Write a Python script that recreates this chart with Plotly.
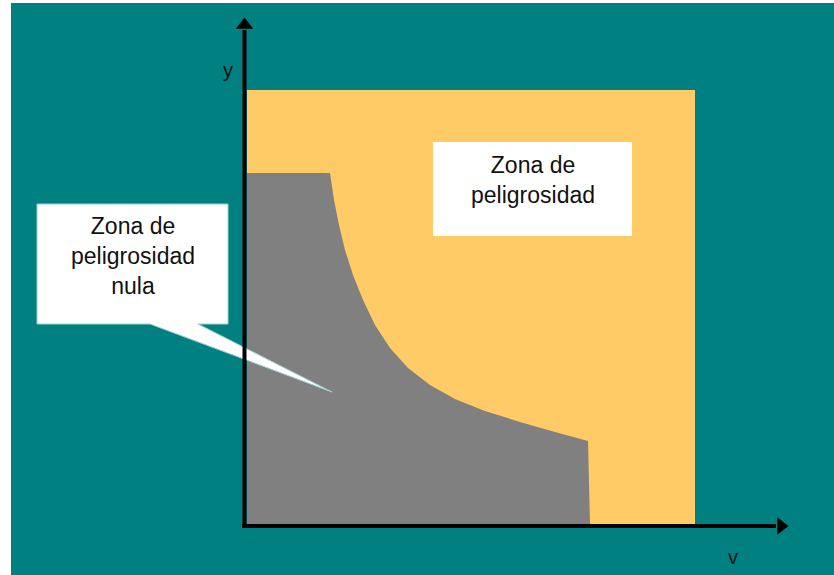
import plotly.graph_objects as go

# chart coordinates: origin where the two axes meet, one unit ~ one pixel
zone_v = [3, 451, 451, 3, 3]
zone_y = [2, 2, 436, 436, 2]

# boundary of the "no danger" area (v, y)
safe_v = [3, 3, 86, 90, 95, 101, 109, 119, 131, 146, 164, 186, 211, 241, 276, 311, 344, 346, 3]
safe_y = [2, 353, 353, 326, 301, 276, 251, 226, 201, 178, 158, 141, 127, 115, 104, 94, 85, 2, 2]

# callout with its pointer
callout_v = [-207, -16, -16, -46, 88, -94, -207, -207]
callout_y = [322, 322, 202, 202, 134, 202, 202, 322]

label_safe = "Zona de<br>peligrosidad<br>nula"
label_danger = "Zona de<br>peligrosidad"

teal = "#008080"
font = "Liberation Sans, Arial, sans-serif"

fig = go.Figure()

# thin white margins at the left and top of the slide
fig.add_shape(type="rect", x0=-260, x1=-233, y0=-80, y1=540,
              fillcolor="white", line_width=0, layer="below")
fig.add_shape(type="rect", x0=-260, x1=620, y0=523, y1=540,
              fillcolor="white", line_width=0, layer="below")

fig.add_trace(go.Scatter(x=zone_v, y=zone_y, fill="toself", fillcolor="#FECB66",
                         mode="none", hoverinfo="skip"))
fig.add_trace(go.Scatter(x=safe_v, y=safe_y, fill="toself", fillcolor="#808080",
                         mode="none", hoverinfo="skip"))
fig.add_trace(go.Scatter(x=callout_v, y=callout_y, fill="toself", fillcolor="white",
                         mode="lines", line=dict(color="#9fcfcf", width=1), hoverinfo="skip"))

fig.add_shape(type="rect", x0=189, x1=388, y0=290, y1=384,
              fillcolor="white", line_width=0)

# axes with arrow heads
fig.add_trace(go.Scatter(x=[0.5, 0.5], y=[-2, 496], mode="lines",
                         line=dict(color="black", width=4), hoverinfo="skip"))
fig.add_trace(go.Scatter(x=[0.5], y=[501], mode="markers",
                         marker=dict(symbol="triangle-up", size=15, color="black"), hoverinfo="skip"))
fig.add_trace(go.Scatter(x=[-2, 532], y=[0, 0], mode="lines",
                         line=dict(color="black", width=4), hoverinfo="skip"))
fig.add_trace(go.Scatter(x=[537], y=[0], mode="markers",
                         marker=dict(symbol="triangle-right", size=15, color="black"), hoverinfo="skip"))

fig.add_annotation(x=-111, y=270, text=label_safe, showarrow=False,
                   font=dict(family=font, size=23, color="#111"))
fig.add_annotation(x=289, y=346, text=label_danger, showarrow=False,
                   font=dict(family=font, size=23, color="#111"))
fig.add_annotation(x=-16, y=456, text="y", showarrow=False,
                   font=dict(family=font, size=20, color="#111"))
fig.add_annotation(x=489, y=-31, text="v", showarrow=False,
                   font=dict(family=font, size=20, color="#111"))

fig.update_layout(width=834, height=575, margin=dict(l=0, r=0, t=0, b=0),
                  paper_bgcolor=teal, plot_bgcolor=teal, showlegend=False)
fig.update_xaxes(range=[-244, 590], visible=False)
fig.update_yaxes(range=[-49, 526], visible=False)

# drop the default 8px body margin so the figure fills the window
fig.write_html("out.html", config={"displayModeBar": False},
               post_script="document.body.style.margin = '0'; document.body.style.overflow = 'hidden';")
